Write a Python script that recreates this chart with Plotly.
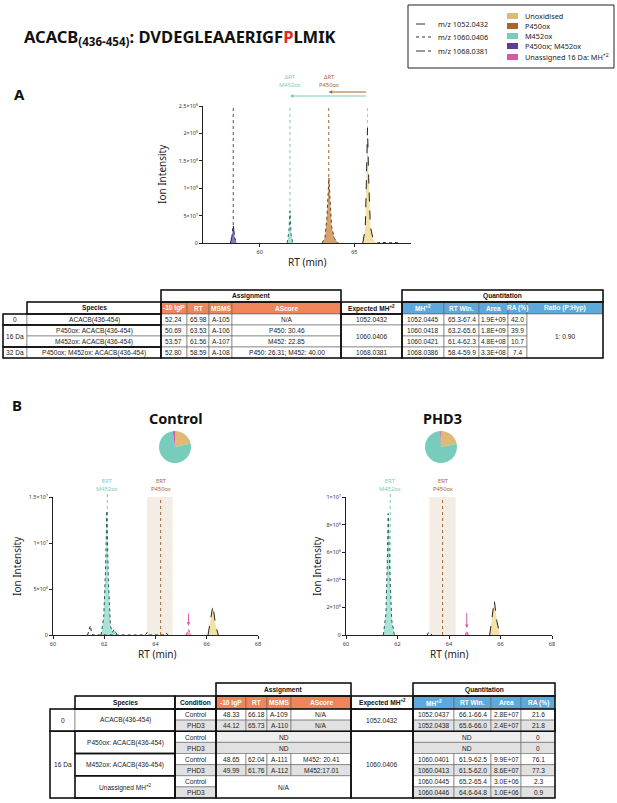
import plotly.graph_objects as go

W, H = 617, 803

# ---------------- colours ----------------
C_UNOX = "#DDBB77"
C_P450 = "#A9642B"
C_M452 = "#77CCBB"
C_BOTH = "#5E3C99"
C_UNAS = "#DD55AA"
F_UNOX = "#F4E1A6"
F_P450 = "#D3A26E"
F_M452 = "#A9E3D8"
F_BOTH = "#8C78C8"
ORANGE = "#F0845A"
BLUE = "#5DA9DB"

# ---------------- data: titles / legend ----------------
title_gene = "ACACB"
title_range = "(436-454)"
pep_before, pep_site, pep_after = "DVDEGLEAAERIGF", "P", "LMIK"
mz_labels = ["m/z 1052.0432", "m/z 1060.0406", "m/z 1068.0381"]
species_labels = ["Unoxidised", "P450ox", "M452ox", "P450ox; M452ox",
                  "Unassigned 16 Da: MH<sup>+2</sup>"]

# ---------------- data: panel A chromatogram ----------------
a_both_rt = [58.45, 58.53, 58.60, 58.68, 58.78]
a_both_int = [0, 1.2e7, 3.2e7, 0.9e7, 0]
a_m452_rt = [61.45, 61.54, 61.60, 61.66, 61.75]
a_m452_int = [0, 2.0e7, 5.8e7, 1.5e7, 0]
a_p450_rt = [63.30, 63.45, 63.55, 63.62, 63.66, 63.72, 63.80, 63.95, 64.15]
a_p450_int = [0, 1.0e7, 4.5e7, 9.5e7, 1.19e8, 8.0e7, 3.0e7, 0.8e7, 0]
a_unox_rt = [65.45, 65.58, 65.64, 65.70, 65.76, 65.85, 66.00, 66.20]
a_unox_int = [0, 2.5e7, 1.1e8, 2.1e8, 1.2e8, 3.0e7, 0.6e7, 0]
a_tail_rt = [66.20, 66.50, 66.80, 67.10, 67.40]
a_tail_int = [0, 1.2e6, 0, 1.0e6, 0]
a_apex_rt = [58.60, 61.60, 63.65, 65.70]
a_yticks = [0, 5e7, 1e8, 1.5e8, 2e8, 2.5e8]
a_yticktext = ["0", "5×10⁷", "1×10⁸", "1.5×10⁸", "2×10⁸", "2.5×10⁸"]
a_xticks = [60, 65]

# ---------------- data: panel B chromatograms ----------------
ctrl_m452_rt = [61.88, 61.98, 62.05, 62.10, 62.16, 62.24, 62.32, 62.38, 62.44, 62.52]
ctrl_m452_int = [0, 2.0e6, 7.0e6, 1.35e7, 6.0e6, 1.0e6, 3e5, 6e5, 3e5, 0]
ctrl_unox_rt = [66.05, 66.14, 66.24, 66.34, 66.45]
ctrl_unox_int = [0, 1.5e6, 3.2e6, 1.2e6, 0]
ctrl_unas_rt = [65.18, 65.24, 65.29, 65.34, 65.40]
ctrl_unas_int = [0, 3e5, 6e5, 3e5, 0]
ctrl_noise_rt = [61.35, 61.42, 61.46, 61.50, 61.56, 63.60, 63.68, 63.76, 64.35, 64.42, 64.50]
ctrl_noise_int = [0, 6e5, 1.0e6, 3e5, 0, 0, 3e5, 0, 0, 2e5, 0]
ctrl_ert = [62.12, 64.20]
ctrl_window = [63.67, 64.67]
ctrl_arrow = [65.29, 2.5e6, 1.0e6]
ctrl_yticks = [0, 5e6, 1e7, 1.5e7]
ctrl_yticktext = ["0", "5×10⁶", "1×10⁷", "1.5×10⁷"]

phd3_m452_rt = [61.45, 61.55, 61.60, 61.64, 61.70, 61.78, 61.88]
phd3_m452_int = [0, 1.5e6, 5.0e6, 8.8e6, 4.5e6, 1.0e6, 0]
phd3_unox_rt = [65.58, 65.68, 65.76, 65.86, 65.98]
phd3_unox_int = [0, 1.2e6, 2.5e6, 1.0e6, 0]
phd3_unas_rt = [64.63, 64.69, 64.75]
phd3_unas_int = [0, 3e5, 0]
phd3_noise_rt = [63.15, 63.22, 63.28, 63.35]
phd3_noise_int = [0, 2e5, 1e5, 0]
phd3_ert = [61.72, 63.75]
phd3_window = [63.24, 64.26]
phd3_arrow = [64.69, 1.7e6, 0.5e6]
phd3_yticks = [0, 2e6, 4e6, 6e6, 8e6, 1e7]
phd3_yticktext = ["0", "2×10⁶", "4×10⁶", "6×10⁶", "8×10⁶", "1×10⁷"]
b_xticks = [60, 62, 64, 66, 68]

# ---------------- data: pies (RA %) ----------------
pie_labels = ["Unoxidised", "P450ox", "M452ox", "Unassigned"]
pie_ctrl = [21.6, 0, 76.1, 2.3]
pie_phd3 = [21.8, 0, 77.3, 0.9]

# ---------------- data: table A ----------------
A_assign_hdr = ["-10 lgP", "RT", "MSMS", "AScore"]
A_quant_hdr = ["MH<sup>+2</sup>", "RT Win.", "Area", "RA (%)", "Ratio (P:Hyp)"]
A_groups = ["0", "16 Da", "32 Da"]
A_group_span = [1, 2, 1]
A_species = ["ACACB(436-454)", "P450ox: ACACB(436-454)", "M452ox: ACACB(436-454)",
             "P450ox; M452ox: ACACB(436-454)"]
A_lgp = ["52.24", "50.69", "53.57", "52.80"]
A_rt = ["65.98", "63.53", "61.56", "58.59"]
A_msms = ["A-105", "A-106", "A-107", "A-108"]
A_ascore = ["N/A", "P450: 30.46", "M452: 22.85", "P450: 26.31; M452: 40.00"]
A_expected = ["1052.0432", "1060.0406", "1068.0381"]
A_mh = ["1052.0445", "1060.0418", "1060.0421", "1068.0386"]
A_rtwin = ["65.3-67.4", "63.2-65.6", "61.4-62.3", "58.4-59.9"]
A_area = ["1.9E+09", "1.8E+09", "4.8E+08", "3.3E+08"]
A_ra = ["42.0", "39.9", "10.7", "7.4"]
A_ratio = "1: 0.90"

# ---------------- data: table B ----------------
B_assign_hdr = ["-10 lgP", "RT", "MSMS", "AScore"]
B_quant_hdr = ["MH<sup>+2</sup>", "RT Win.", "Area", "RA (%)"]
B_groups = ["0", "16 Da"]
B_group_span = [2, 6]
B_species = ["ACACB(436-454)", "P450ox: ACACB(436-454)", "M452ox: ACACB(436-454)",
             "Unassigned MH<sup>+2</sup>"]
B_conditions = ["Control", "PHD3"] * 4
B_assign_rows = [["48.33", "66.18", "A-109", "N/A"],
                 ["44.12", "65.73", "A-110", "N/A"],
                 ["ND"], ["ND"],
                 ["48.65", "62.04", "A-111", "M452: 20.41"],
                 ["49.99", "61.76", "A-112", "M452:17.01"],
                 ["N/A"], None]
B_expected = ["1052.0432", "1060.0406"]
B_expected_span = [2, 6]
B_quant_rows = [["1052.0437", "66.1-66.4", "2.8E+07", "21.6"],
                ["1052.0438", "65.6-66.0", "2.4E+07", "21.8"],
                ["ND", "0"], ["ND", "0"],
                ["1060.0401", "61.9-62.5", "9.9E+07", "76.1"],
                ["1060.0413", "61.5-62.0", "8.6E+07", "77.3"],
                ["1060.0445", "65.2-65.4", "3.0E+06", "2.3"],
                ["1060.0446", "64.6-64.8", "1.0E+06", "0.9"]]

# ---------------- layout helpers (pixel -> paper) ----------------
def X(px):
    return px / W

def Y(py):
    return 1 - py / H

CFONT = "Noto Sans"
TFONT = "Liberation Sans"
shapes, annotations = [], []

def rect(x0, y0, x1, y1, fill=None, lw=0.6, lc="#555", layer="above"):
    shapes.append(dict(type="rect", xref="paper", yref="paper",
                       x0=X(x0), x1=X(x1), y0=Y(y1), y1=Y(y0),
                       fillcolor=fill if fill else "rgba(0,0,0,0)",
                       line=dict(width=lw, color=lc), layer=layer))

def text(px, py, s, size=7, color="#111", xanchor="center", family=CFONT, angle=0):
    annotations.append(dict(x=X(px), y=Y(py), xref="paper", yref="paper", text=s,
                            showarrow=False, xanchor=xanchor, yanchor="middle",
                            textangle=angle,
                            font=dict(size=size, color=color, family=family)))

STY = {"hdr": ("white", "#111", True), "org": (ORANGE, "white", True),
       "blu": (BLUE, "white", True), "dat": ("white", "#222", False),
       "gry": ("#E1E1E1", "#222", False), "lgt": ("#EEEEEE", "#222", False)}

def draw_table(cols, rows, cells, blocks, size=6.6):
    for c0, c1, r0, r1, s, st in cells:
        bg, fg, bold = STY[st]
        x0, x1, y0, y1 = cols[c0], cols[c1], rows[r0], rows[r1]
        rect(x0, y0, x1, y1, fill=bg, lw=0.6, lc="#666")
        text((x0 + x1) / 2, (y0 + y1) / 2 + 0.3, f"<b>{s}</b>" if bold else s,
             size=size, color=fg, family=TFONT)
    for c0, c1, r0, r1 in blocks:
        rect(cols[c0], rows[r0], cols[c1], rows[r1], lw=1.5, lc="#111")

# ---------------- figure ----------------
fig = go.Figure()

def peak(x, y, xa, ya, fill, dash="dot", lc="#333"):
    fig.add_trace(go.Scatter(x=x, y=y, xaxis=xa, yaxis=ya, mode="lines",
                             fill="tozeroy", fillcolor=fill,
                             line=dict(color=lc, width=1, dash=dash),
                             hoverinfo="skip", showlegend=False))

def noise(x, y, xa, ya):
    fig.add_trace(go.Scatter(x=x, y=y, xaxis=xa, yaxis=ya, mode="lines",
                             line=dict(color="#222", width=1, dash="dot"),
                             hoverinfo="skip", showlegend=False))

# Panel A peaks
peak(a_both_rt, a_both_int, "x", "y", F_BOTH, dash="dashdot", lc="#2b1f55")
peak(a_m452_rt, a_m452_int, "x", "y", F_M452, dash="dot", lc="#2f6f66")
peak(a_p450_rt, a_p450_int, "x", "y", F_P450, dash="dot", lc="#6b3a14")
peak(a_unox_rt, a_unox_int, "x", "y", F_UNOX, dash="dash", lc="#222")
noise(a_tail_rt, a_tail_int, "x", "y")
for rt, c in zip(a_apex_rt, [C_BOTH, C_M452, C_P450, C_UNOX]):
    shapes.append(dict(type="line", xref="x", yref="y", x0=rt, x1=rt, y0=0,
                       y1=a_yticks[-1], line=dict(color=c, width=1, dash="dot"),
                       layer="below"))

# Panel B windows and ERT lines
for xa, win, ert in [("x2", ctrl_window, ctrl_ert), ("x3", phd3_window, phd3_ert)]:
    shapes.append(dict(type="rect", xref=xa, yref="paper", x0=win[0], x1=win[1],
                       y0=Y(635), y1=Y(497), fillcolor="#F3EDE5",
                       line=dict(width=0), layer="below"))
    shapes.append(dict(type="line", xref=xa, yref="paper", x0=ert[0], x1=ert[0],
                       y0=Y(635), y1=Y(493), line=dict(color=C_M452, width=1, dash="dot"),
                       layer="below"))
    shapes.append(dict(type="line", xref=xa, yref="paper", x0=ert[1], x1=ert[1],
                       y0=Y(635), y1=Y(497), line=dict(color=C_P450, width=1, dash="dot"),
                       layer="below"))

peak(ctrl_m452_rt, ctrl_m452_int, "x2", "y2", F_M452, dash="dot", lc="#245a52")
peak(ctrl_unox_rt, ctrl_unox_int, "x2", "y2", F_UNOX, dash="dash", lc="#222")
peak(ctrl_unas_rt, ctrl_unas_int, "x2", "y2", "#EFA6D2", dash="dot", lc=C_UNAS)
noise(ctrl_noise_rt, ctrl_noise_int, "x2", "y2")
peak(phd3_m452_rt, phd3_m452_int, "x3", "y3", F_M452, dash="dot", lc="#245a52")
peak(phd3_unox_rt, phd3_unox_int, "x3", "y3", F_UNOX, dash="dash", lc="#222")
peak(phd3_unas_rt, phd3_unas_int, "x3", "y3", "#EFA6D2", dash="dot", lc=C_UNAS)
noise(phd3_noise_rt, phd3_noise_int, "x3", "y3")

# pink arrows
for xa, ya, arr in [("x2", "y2", ctrl_arrow), ("x3", "y3", phd3_arrow)]:
    annotations.append(dict(x=arr[0], y=arr[2], ax=arr[0], ay=arr[1], xref=xa, yref=ya,
                            axref=xa, ayref=ya, showarrow=True, arrowhead=2,
                            arrowsize=0.7, arrowwidth=1, arrowcolor=C_UNAS, text=""))

# pies
for vals, cx in [(pie_ctrl, 175), (pie_phd3, 441)]:
    fig.add_trace(go.Pie(labels=pie_labels, values=vals, sort=False, direction="clockwise",
                         rotation=0, textinfo="none", hoverinfo="skip", showlegend=False,
                         marker=dict(colors=[C_UNOX, C_P450, C_M452, C_UNAS],
                                     line=dict(width=0)),
                         domain=dict(x=[X(cx - 16), X(cx + 16)], y=[Y(463), Y(431)])))

# axes
def axis(domain, **kw):
    d = dict(domain=domain, showline=True, linecolor="#222", linewidth=1, ticks="outside",
             ticklen=3, tickwidth=0.8, tickcolor="#222", showgrid=False, zeroline=False,
             tickfont=dict(size=5.5, color="#333", family=CFONT), fixedrange=True)
    d.update(kw)
    return d

fig.update_layout(
    xaxis=axis([X(203), X(411)], range=[57, 68], tickvals=a_xticks, anchor="y"),
    yaxis=axis([Y(243), Y(106)], range=[0, 2.5e8], tickvals=a_yticks,
               ticktext=a_yticktext, anchor="x"),
    xaxis2=axis([X(53), X(258)], range=[60, 68], tickvals=b_xticks, anchor="y2"),
    yaxis2=axis([Y(635), Y(497)], range=[0, 1.5e7], tickvals=ctrl_yticks,
                ticktext=ctrl_yticktext, anchor="x2"),
    xaxis3=axis([X(346), X(552)], range=[60, 68], tickvals=b_xticks, anchor="y3"),
    yaxis3=axis([Y(635), Y(497)], range=[0, 1e7], tickvals=phd3_yticks,
                ticktext=phd3_yticktext, anchor="x3"),
)

# axis titles
for px, py in [(307, 262), (157, 654), (449, 654)]:
    text(px, py, "RT (min)", size=10, color="#222")
for px, py in [(162, 174), (17, 566), (317, 566)]:
    text(px, py, "Ion Intensity", size=10, color="#222", angle=-90)

# ΔRT arrows and labels (panel A), tail at the unoxidised RT
for tgt, py, c in [(a_apex_rt[2], 92, C_P450), (a_apex_rt[1], 96, C_M452)]:
    annotations.append(dict(x=tgt, y=Y(py), xref="x", yref="paper", ax=a_apex_rt[3], ay=0,
                            axref="x", ayref="pixel", showarrow=True, arrowhead=2,
                            arrowsize=0.7, arrowwidth=1, arrowcolor=c, text=""))
for rt, name, c in [(a_apex_rt[1], "M452ox", C_M452), (a_apex_rt[2], "P450ox", C_P450)]:
    annotations.append(dict(x=rt, y=Y(81), xref="x", yref="paper", text=f"ΔRT<br>{name}",
                            showarrow=False, font=dict(size=5.8, color=c, family=CFONT),
                            yanchor="middle"))
# ERT labels (panel B)
for xa, ert in [("x2", ctrl_ert), ("x3", phd3_ert)]:
    for rt, name, c in [(ert[0], "M452ox", C_M452), (ert[1], "P450ox", C_P450)]:
        annotations.append(dict(x=rt, y=Y(485), xref=xa, yref="paper", text=f"ERT<br>{name}",
                                showarrow=False, font=dict(size=5.8, color=c, family=CFONT),
                                yanchor="middle"))

# title and panel letters
text(22, 37, f"<b>{title_gene}<sub>{title_range}</sub>: {pep_before}"
             f"<span style='color:#E8231E'>{pep_site}</span>{pep_after}</b>",
     size=16.5, color="#111", xanchor="left")
text(12, 94, "<b>A</b>", size=15, color="#111", xanchor="left")
text(10, 405, "<b>B</b>", size=15, color="#111", xanchor="left")
text(176, 418, "<b>Control</b>", size=14.5, color="#111")
text(442, 418, "<b>PHD3</b>", size=14.5, color="#111")

# legend box
rect(408, 5, 614, 68, lw=1, lc="#222")
for py, lab, dsh in zip([24, 37, 51], mz_labels, ["dash", "dot", "dashdot"]):
    shapes.append(dict(type="line", xref="paper", yref="paper", x0=X(416), x1=X(431),
                       y0=Y(py), y1=Y(py), line=dict(color="#333", width=1, dash=dsh)))
    text(436, py, lab, size=7.3, color="#222", xanchor="left")
for py, lab, c in zip([16, 26, 36, 46, 57], species_labels,
                      [C_UNOX, C_P450, C_M452, C_BOTH, C_UNAS]):
    rect(507, py - 3, 518, py + 3, fill=c, lw=0, lc=c)
    text(523, py, lab, size=7.3, color="#222", xanchor="left")

# ---------------- table A ----------------
A_cols = [3, 27, 161, 187, 209, 232, 341, 402, 444, 479, 508, 527, 603]
A_rows = [290, 302, 314, 325, 336, 347, 358]
cells = [(2, 6, 0, 1, "Assignment", "hdr"), (7, 12, 0, 1, "Quantitation", "hdr"),
         (1, 2, 1, 2, "Species", "hdr"), (6, 7, 1, 2, "Expected MH<sup>+2</sup>", "hdr")]
cells += [(2 + i, 3 + i, 1, 2, h, "org") for i, h in enumerate(A_assign_hdr)]
cells += [(7 + i, 8 + i, 1, 2, h, "blu") for i, h in enumerate(A_quant_hdr)]
r = 2
for g, sp in zip(A_groups, A_group_span):
    cells.append((0, 1, r, r + sp, g, "dat"))
    r += sp
r = 2
for e, sp in zip(A_expected, A_group_span):
    cells.append((6, 7, r, r + sp, e, "dat"))
    r += sp
for i in range(len(A_species)):
    rr = 2 + i
    for c, v in enumerate([A_species[i], A_lgp[i], A_rt[i], A_msms[i], A_ascore[i]]):
        cells.append((1 + c, 2 + c, rr, rr + 1, v, "dat"))
    for c, v in enumerate([A_mh[i], A_rtwin[i], A_area[i], A_ra[i]]):
        cells.append((7 + c, 8 + c, rr, rr + 1, v, "dat"))
cells.append((11, 12, 2, 6, A_ratio, "dat"))
A_blocks = [(2, 6, 0, 1), (7, 12, 0, 1), (1, 2, 1, 2), (6, 7, 1, 2), (0, 2, 2, 3),
            (0, 2, 3, 5), (0, 2, 5, 6), (2, 6, 1, 6), (6, 7, 2, 6), (7, 12, 1, 6)]
draw_table(A_cols, A_rows, cells, A_blocks, size=6.6)

# ---------------- table B ----------------
B_cols = [50, 75, 175, 216, 246, 267, 291, 351, 413, 454, 491, 521, 555]
B_rows = [683, 696, 709] + [709 + 11.125 * k for k in range(1, 9)]
cells = [(3, 7, 0, 1, "Assignment", "hdr"), (8, 12, 0, 1, "Quantitation", "hdr"),
         (1, 2, 1, 2, "Species", "hdr"), (2, 3, 1, 2, "Condition", "hdr"),
         (7, 8, 1, 2, "Expected MH<sup>+2</sup>", "hdr")]
cells += [(3 + i, 4 + i, 1, 2, h, "org") for i, h in enumerate(B_assign_hdr)]
cells += [(8 + i, 9 + i, 1, 2, h, "blu") for i, h in enumerate(B_quant_hdr)]
r = 2
for g, sp in zip(B_groups, B_group_span):
    cells.append((0, 1, r, r + sp, g, "dat"))
    r += sp
r = 2
for e, sp in zip(B_expected, B_expected_span):
    cells.append((7, 8, r, r + sp, e, "dat"))
    r += sp
for i, s in enumerate(B_species):
    cells.append((1, 2, 2 + 2 * i, 4 + 2 * i, s, "dat"))
for i, cond in enumerate(B_conditions):
    rr = 2 + i
    st = "gry" if cond == "PHD3" else "dat"
    cells.append((2, 3, rr, rr + 1, cond, st))
    arow = B_assign_rows[i]
    if arow is not None:
        if len(arow) == 4:
            for c, v in enumerate(arow):
                cells.append((3 + c, 4 + c, rr, rr + 1, v, st))
        else:
            merged = i + 1 < len(B_assign_rows) and B_assign_rows[i + 1] is None
            if merged:
                cells.append((3, 7, rr, rr + 2, arow[0], "dat"))
            else:
                cells.append((3, 7, rr, rr + 1, arow[0], "gry" if cond == "PHD3" else "lgt"))
    qrow = B_quant_rows[i]
    if len(qrow) == 4:
        for c, v in enumerate(qrow):
            cells.append((8 + c, 9 + c, rr, rr + 1, v, st))
    else:
        st2 = "gry" if cond == "PHD3" else "lgt"
        cells.append((8, 11, rr, rr + 1, qrow[0], st2))
        cells.append((11, 12, rr, rr + 1, qrow[1], st2))
B_blocks = [(3, 7, 0, 1), (8, 12, 0, 1), (1, 2, 1, 2), (2, 3, 1, 2), (7, 8, 1, 2),
            (3, 7, 1, 10), (8, 12, 1, 10), (3, 7, 2, 4), (8, 12, 2, 4),
            (0, 2, 2, 4), (0, 2, 4, 10), (1, 2, 4, 6), (1, 2, 6, 8), (1, 2, 8, 10),
            (2, 3, 2, 10), (2, 3, 2, 4), (7, 8, 2, 4), (7, 8, 4, 10)]
draw_table(B_cols, B_rows, cells, B_blocks, size=6.6)

fig.update_layout(width=W, height=H, margin=dict(l=0, r=0, t=0, b=0),
                  paper_bgcolor="white", plot_bgcolor="white", template="none",
                  showlegend=False, shapes=shapes, annotations=annotations)

fig.write_html("out.html", config={"displayModeBar": False},
               post_script="document.body.style.margin='0px';")
